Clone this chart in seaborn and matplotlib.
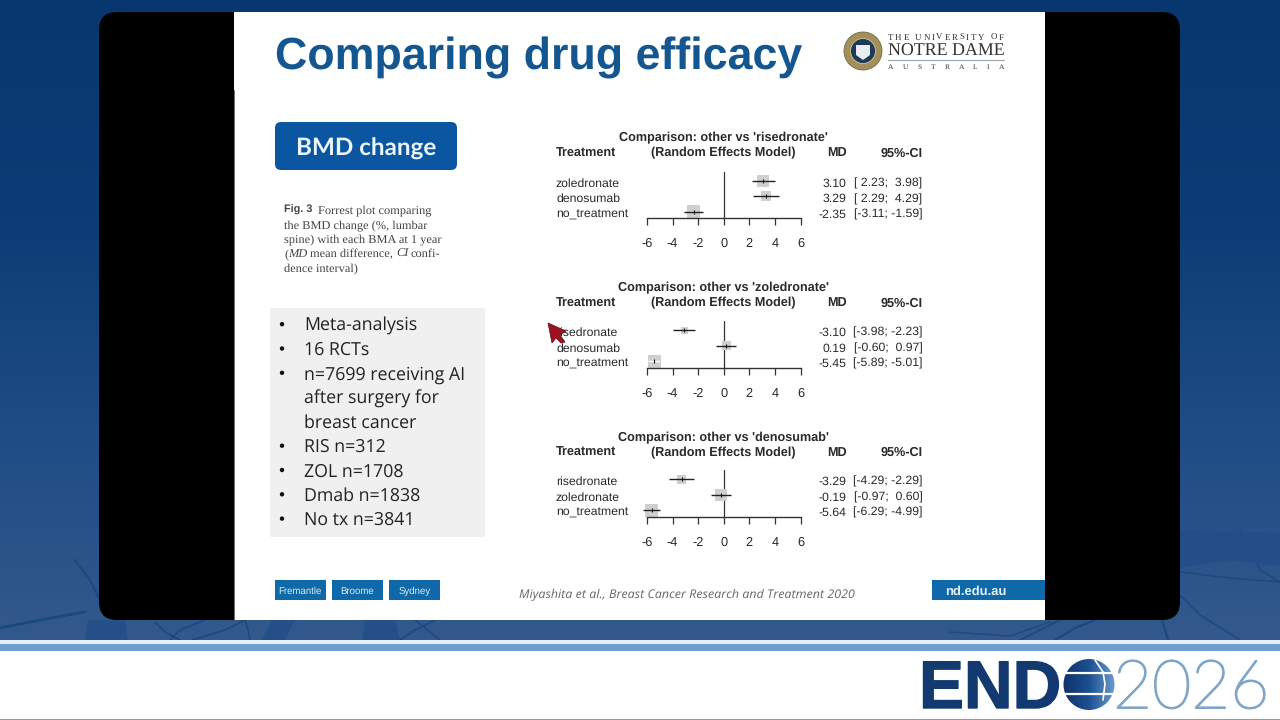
import numpy as np
import pandas as pd
import matplotlib
matplotlib.use('Agg')
import matplotlib.pyplot as plt
import matplotlib.patheffects as pe
import seaborn as sns
from matplotlib.patches import Rectangle, FancyBboxPatch, Circle, Polygon
from matplotlib.colors import LinearSegmentedColormap
from matplotlib.transforms import blended_transform_factory

# Forest plot values
ref_names = ['risedronate', 'zoledronate', 'denosumab']

ris_labels = ['zoledronate', 'denosumab', 'no_treatment']
ris_md = [3.10, 3.29, -2.35]
ris_lo = [2.23, 2.29, -3.11]
ris_hi = [3.98, 4.29, -1.59]
ris_wt = [12, 10, 13]

zol_labels = ['risedronate', 'denosumab', 'no_treatment']
zol_md = [-3.10, 0.19, -5.45]
zol_lo = [-3.98, -0.60, -5.89]
zol_hi = [-2.23, 0.97, -5.01]
zol_wt = [7, 9, 13]

den_labels = ['risedronate', 'zoledronate', 'no_treatment']
den_md = [-3.29, -0.19, -5.64]
den_lo = [-4.29, -0.97, -6.29]
den_hi = [-2.29, 0.60, -4.99]
den_wt = [9, 12, 13]

x_ticks = [-6, -4, -2, 0, 2, 4, 6]

bullets = ['Meta-analysis', '16 RCTs', 'n=7699 receiving AI', 'after surgery for', 'breast cancer',
           'RIS n=312', 'ZOL n=1708', 'Dmab n=1838', 'No tx n=3841']
bullet_on = [1, 1, 1, 0, 0, 1, 1, 1, 1]
caption = ['the BMD change (%, lumbar', 'spine) with each BMA at 1 year']
campuses = ['Fremantle', 'Broome', 'Sydney']

sns.set_theme(style='white')
plt.rcParams['font.family'] = ['Liberation Sans', 'DejaVu Sans']
plt.rcParams['axes.unicode_minus'] = False
plt.rcParams['text.hinting'] = 'no_hinting'

fig = plt.figure(figsize=(12.8, 7.2), dpi=100)

# whole figure in pixel coordinates for the slide furniture
bg = fig.add_axes([0, 0, 1, 1])
bg.set_xlim(0, 1280)
bg.set_ylim(720, 0)
bg.axis('off')

mid = 'center_baseline'


def px_axes(left, top, right, bottom):
    return fig.add_axes([left / 1280, 1 - bottom / 720, (right - left) / 1280, (bottom - top) / 720])


def spaced_text(x0, x1, y, txt, **kw):
    # spread the letters of txt evenly between x0 and x1
    rend = fig.canvas.get_renderer()
    items = [bg.text(x0, y, ch, **kw) for ch in txt]
    widths = [t.get_window_extent(rend).width if ch != ' ' else 3 for t, ch in zip(items, txt)]
    gap = (x1 - x0 - sum(widths)) / (len(txt) - 1)
    x = x0
    for t, w in zip(items, widths):
        t.set_x(x)
        x += w + gap


# blue backdrop
cmap = LinearSegmentedColormap.from_list('backdrop', ['#083770', '#0c3b75', '#1f4c85', '#34598c'])
bg.imshow(np.linspace(0, 1, 256).reshape(-1, 1), extent=[0, 1280, 645, 0], aspect='auto', cmap=cmap, zorder=0)
bg.set_xlim(0, 1280)
bg.set_ylim(720, 0)

# faint nerve lines in the backdrop
nerves = [([0, 40, 85], [628, 620, 612], 2), ([75, 90, 100], [560, 580, 600], 1.5),
          ([155, 165, 180], [622, 632, 640], 1.2), ([170, 180, 205], [640, 630, 620], 1.2),
          ([192, 225, 245], [640, 630, 620], 1.2), ([245, 248, 250], [620, 630, 640], 1),
          ([400, 415, 435], [640, 630, 620], 1.2), ([415, 425, 440], [620, 628, 640], 1),
          ([950, 1010, 1050], [632, 636, 622], 1), ([1020, 1040, 1060], [640, 630, 620], 1.2),
          ([1055, 1075, 1095], [640, 628, 620], 1.5), ([1162, 1165, 1168], [620, 630, 640], 1.5),
          ([1180, 1200, 1240], [595, 615, 640], 1), ([1180, 1230, 1280], [572, 578, 582], 1),
          ([1240, 1260, 1280], [530, 570, 582], 1)]
for nx, ny, lw in nerves:
    bg.plot(nx, ny, color='#1a4880', lw=lw, zorder=1)
bg.add_patch(Polygon([(85, 640), (88, 620), (125, 620), (128, 640)], fc='#244f88', ec='none', zorder=1))
bg.add_patch(Polygon([(262, 640), (272, 620), (295, 620), (285, 640)], fc='#244f88', ec='none', zorder=1))
bg.add_patch(Polygon([(362, 640), (365, 620), (395, 620), (400, 640)], fc='#244f88', ec='none', zorder=1))
bg.add_patch(Polygon([(1180, 530), (1280, 533), (1280, 566), (1230, 560), (1180, 568)], fc='#234e87', ec='none', zorder=1))

# bottom band
bg.add_patch(Rectangle((0, 640), 1280, 4, color='#e6f2fb', lw=0, zorder=2))
bg.add_patch(Rectangle((0, 644), 1280, 7, color='#6f9fcf', lw=0, zorder=2))
bg.add_patch(Rectangle((0, 651), 1280, 69, color='white', lw=0, zorder=2))
bg.add_patch(Rectangle((0, 718.5), 1280, 1.5, color='#9a9a9a', lw=0, zorder=2))

# video frame and slide
bg.add_patch(FancyBboxPatch((99, 12), 1081, 608, boxstyle='round,pad=0,rounding_size=18', fc='black', ec='none', zorder=3))
bg.add_patch(Rectangle((233.5, 12), 811, 608, color='white', lw=0, zorder=4))
bg.plot([233.5, 233.5], [90, 620], color='#555555', lw=0.6, zorder=5)

bg.text(275, 69.5, 'Comparing drug efficacy', fontsize=32.25, fontweight='bold', color='#14568f', va='baseline', zorder=6)

# logo
bg.add_patch(Circle((863, 51), 19, fc='#a58f58', ec='#6f6a4c', lw=0.6, zorder=6))
bg.add_patch(Circle((863, 51), 12.5, fc='#1d3a5c', ec='#d7c98f', lw=0.6, zorder=6))
bg.add_patch(Polygon([(856, 45), (870, 45), (870, 55), (863, 60), (856, 55)], fc='#e8eef2', ec='none', zorder=7))
logo_kw = dict(family='Liberation Serif', color='#333333', va='baseline', zorder=6)
spaced_text(888, 1004, 40, 'THE UNIVERSITY OF', fontsize=6.4, **logo_kw)
bg.text(887.5, 55.5, 'NOTRE DAME', fontsize=12.85, **logo_kw)
bg.plot([888, 1004], [60, 60], color='#9aa5ad', lw=0.8, zorder=6)
spaced_text(888, 1004, 69, 'AUSTRALIA', fontsize=5.4, **logo_kw)

# left column
bg.add_patch(FancyBboxPatch((275, 122), 182, 48, boxstyle='round,pad=0,rounding_size=6', fc='#0a56a0', ec='none', zorder=6))
bg.text(366, 147, 'BMD change', fontsize=17.5, family='Lato', fontweight='bold', color='#eaf6fb', ha='center', va=mid, zorder=7)

serif = dict(family='Liberation Serif', fontsize=8.95, color='#444444', va='baseline', zorder=6)
bg.text(284, 213, 'Fig. 3', fontsize=7.8, fontweight='bold', color='#444444', va='baseline', zorder=6)
bg.text(318, 213, 'Forrest plot comparing', **serif)
bg.text(284, 228, caption[0], **serif)
bg.text(284, 242.7, caption[1], **serif)
bg.text(284, 257.3, '(', **serif)
bg.text(288.5, 257.3, 'MD', fontstyle='italic', **serif)
bg.text(310, 257.3, 'mean difference,', **serif)
bg.text(396, 257.3, 'CI', fontstyle='italic', **serif)
bg.text(411, 257.3, 'confi-', **serif)
bg.text(284, 271.7, 'dence interval)', **serif)

bg.add_patch(Rectangle((270, 308), 215, 229, color='#f0f0f0', lw=0, zorder=6))
for k, line in enumerate(bullets):
    y_line = 330.7 + k * 24.3
    bg.text(304, y_line, line, fontsize=12.75, family='Open Sans', color='#222222', va='baseline', zorder=7)
    if bullet_on[k]:
        bg.add_patch(Circle((282, y_line - 6.5), 2.2, fc='#111111', ec='none', zorder=7))

# footer
for k, name in enumerate(campuses):
    x0 = 274.5 + k * 57.3
    bg.add_patch(Rectangle((x0, 579.5), 51, 20.5, color='#0f68a8', lw=0, zorder=6))
    bg.text(x0 + 25.5, 590, name, fontsize=6.9, color='#d9eef8', ha='center', va=mid, zorder=7)
bg.text(687, 594, 'Miyashita et al., Breast Cancer Research and Treatment 2020', fontsize=8.97, family='Open Sans',
        fontstyle='italic', color='#666666', ha='center', va=mid, zorder=6)
bg.add_patch(Rectangle((932, 579.5), 113, 20.5, color='#0f68a8', lw=0, zorder=6))
bg.text(945, 590, 'nd.edu.au', fontsize=9.4, fontweight='bold', color='#e6f3fa', va=mid, zorder=7)

# ENDO 2026 logo
bg.text(919, 708, 'END', fontsize=48.5, fontweight='bold', color='#123a70', va='baseline', zorder=6,
        path_effects=[pe.withStroke(linewidth=1, foreground='#123a70')])
globe = Circle((1089, 684.5), 25.5, transform=bg.transData)
grad = bg.imshow(np.linspace(0, 1, 128).reshape(1, -1), extent=[1063, 1115, 710, 659], aspect='auto',
                 cmap=LinearSegmentedColormap.from_list('globe', ['#10336a', '#1d4f92', '#6b9ccc']), zorder=6)
grad.set_clip_path(globe)
bg.set_xlim(0, 1280)
bg.set_ylim(720, 0)
bg.plot([1063, 1115], [672.5, 672.5], color='white', lw=1.6, zorder=7)
bg.plot([1063, 1115], [693.5, 693.5], color='white', lw=1.6, zorder=7)
bg.plot([1095, 1103, 1105, 1103], [660, 672, 684, 700], color='white', lw=1.2, zorder=7)
bg.text(1113, 708, '2026', fontsize=48.5, family='Lato', fontweight='light', color='#7fa6c6', va='baseline', zorder=6,
        path_effects=[pe.withStroke(linewidth=1.3, foreground='#7fa6c6')])

# cursor
bg.add_patch(Polygon([(548, 323), (566, 331), (560, 335), (565, 342), (561, 343), (556, 338), (552, 343)],
                     fc='#a01020', ec='#5a0a12', lw=0.5, zorder=9))

panels = [(ris_labels, ris_md, ris_lo, ris_hi, ris_wt),
          (zol_labels, zol_md, zol_lo, zol_hi, zol_wt),
          (den_labels, den_md, den_lo, den_hi, den_wt)]
axis_y = [218.5, 367.7, 516.7]
title_y = [141.3, 291.3, 441]
text_col = '#2a2a2a'

for i, (labels, md, lo, hi, wt) in enumerate(panels):
    df = pd.DataFrame({'label': labels, 'md': md, 'lo': lo, 'hi': hi, 'wt': wt, 'row': [1, 2, 3]})

    ax = px_axes(647, axis_y[i] - 46.5, 800.5, axis_y[i])
    ax.patch.set_alpha(0)
    sns.scatterplot(data=df, x='md', y='row', marker='s', s=(df['wt'] * 0.72) ** 2, color='#cfcfcf', linewidth=0,
                    ax=ax, clip_on=False, zorder=2)
    ci_col = ['white' if (i == 1 and r == 3) else '#222222' for r in df['row']]
    ax.hlines(df['row'], df['lo'], df['hi'], colors=ci_col, lw=1, zorder=3, clip_on=False)
    ax.scatter(df['md'], df['row'], marker='|', s=12, color='#111111', linewidths=0.8, zorder=4, clip_on=False)
    ax.axvline(0, color='#333333', lw=0.9, zorder=1)

    ax.set_xlim(-6, 6)
    ax.set_ylim(3.42, 0.42)
    ax.set_xticks(x_ticks)
    ax.set_yticks([])
    ax.set_xlabel('')
    ax.set_ylabel('')
    for side in ['top', 'left', 'right']:
        ax.spines[side].set_visible(False)
    ax.spines['bottom'].set_color('#333333')
    ax.spines['bottom'].set_linewidth(1)
    ax.tick_params(axis='x', direction='out', length=5, width=0.9, color='#333333', bottom=True, pad=9,
                   labelsize=9.2, labelcolor=text_col)

    # headers
    head = dict(fontsize=9.05, fontweight='bold', color=text_col, va='baseline', zorder=6)
    bg.text(723.5, title_y[i], "Comparison: other vs '%s'" % ref_names[i], ha='center', **head)
    bg.text(556, title_y[i] + 15.2, 'Treatment', **head)
    bg.text(723, title_y[i] + 15.2, '(Random Effects Model)', ha='center', **head)
    bg.text(846.5, title_y[i] + 15.2, 'MD', ha='right', **head)
    bg.text(922.5, title_y[i] + 15.2, '95%-CI', ha='right', **head)

    # rows of text, tied to the row positions of the axes
    tr = blended_transform_factory(bg.transData, ax.transData)
    body = dict(fontsize=8.8, color=text_col, va='baseline', transform=tr, zorder=6)
    for _, r in df.iterrows():
        bg.text(556, r['row'] + 0.37, r['label'], **body)
        bg.text(846.5, r['row'] + 0.37, '%.2f' % r['md'], ha='right', **body)
        lo_txt = '%.2f' % r['lo'] if r['lo'] < 0 else ' %.2f' % r['lo']
        hi_txt = '%.2f' % r['hi'] if r['hi'] < 0 else ' %.2f' % r['hi']
        bg.text(922.5, r['row'] + 0.37, '[%s; %s]' % (lo_txt, hi_txt), ha='right', **body)

fig.savefig('out.png', dpi=100)
